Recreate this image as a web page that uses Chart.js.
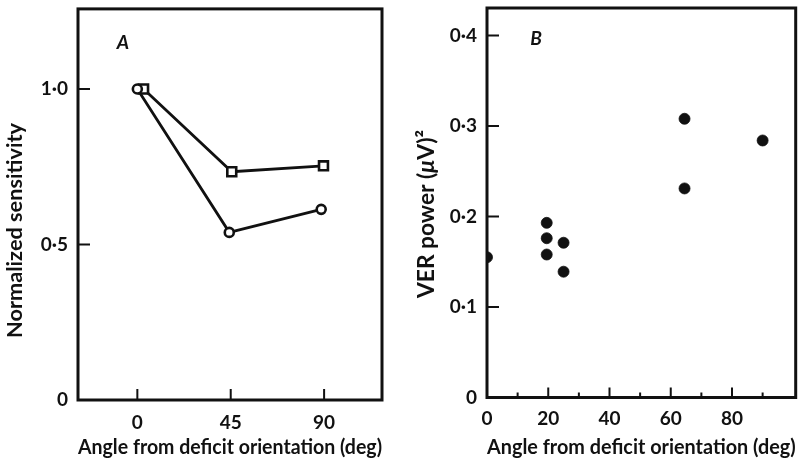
<!DOCTYPE html>
<html>
<head>
<meta charset="utf-8">
<script src="https://cdn.jsdelivr.net/npm/chart.js@4.4.1/dist/chart.umd.min.js"></script>
<style>
  html, body { margin: 0; padding: 0; background: #fff; }
  #wrap { position: relative; width: 802px; height: 460px; }
  #ca { position: absolute; left: 0; top: 0; }
  #cb { position: absolute; left: 400px; top: 0; }
</style>
</head>
<body>
<div id="wrap">
  <canvas id="ca" width="400" height="460"></canvas>
  <canvas id="cb" width="402" height="460"></canvas>
</div>
<script>
// ---- Panel A data ----
const circleAngles = [0, 44.3, 88.6];
const circleSens   = [1.0, 0.539, 0.613];
const squareAngles = [3, 45.5, 89.7];
const squareSens   = [1.0, 0.734, 0.753];
const aTickX = [0, 45, 90];
const aTickY = [0, 0.5, 1.0];

// ---- Panel B data ----
const verAngles = [0, 19.5, 19.5, 19.5, 25, 25, 64.5, 64.5, 90];
const verPower  = [0.155, 0.193, 0.176, 0.158, 0.171, 0.139, 0.308, 0.231, 0.284];
const bTickX = [0, 10, 20, 30, 40, 50, 60, 70, 80, 90];
const bLabelX = [0, 20, 40, 60, 80];
const bTickY = [0, 0.1, 0.2, 0.3, 0.4];

const xTitle = 'Angle from deficit orientation (deg)';
const aYTitle = 'Normalized sensitivity';
const bYTitleParts = [['VER power (', 'normal'], ['\u03BC', 'italic'], ['V)\u00B2', 'normal']];

const FAMILY = 'Lato, "Open Sans", sans-serif';
const WEIGHT = 'bold';
const INK = '#111';
Chart.defaults.font.family = FAMILY;
Chart.defaults.color = INK;

function fmtY(v) {
  if (Math.abs(v) < 1e-9) return '0';
  return v.toFixed(1).replace('.', '\u00B7');
}
function fmtX(v) { return String(Math.round(v)); }
const pts = (xs, ys) => xs.map((x, i) => ({ x: x, y: ys[i] }));

const mctx = document.createElement('canvas').getContext('2d');
function fitSize(parts, target) {
  let w = 0;
  parts.forEach(p => { mctx.font = p[1] + ' ' + WEIGHT + ' 100px ' + FAMILY; w += mctx.measureText(p[0]).width; });
  return 100 * target / w;
}
const xTitleSize = fitSize([[xTitle, 'normal']], 325);
const aYTitleSize = fitSize([[aYTitle, 'normal']], 215);
const bYTitleSize = fitSize(bYTitleParts, 168);

function framePlugin(cfg) {
  return {
    id: 'frame',
    beforeDatasetsDraw(chart) {
      const { ctx, chartArea: a, scales } = chart;
      ctx.save();
      ctx.strokeStyle = INK;
      ctx.lineWidth = 3;
      ctx.strokeRect(a.left, a.top, a.right - a.left, a.bottom - a.top);
      ctx.lineWidth = 2;
      ctx.beginPath();
      cfg.yTicks.forEach(v => {
        const py = scales.y.getPixelForValue(v);
        ctx.moveTo(a.left, py); ctx.lineTo(a.left + cfg.yLen, py);
      });
      cfg.xTicks.forEach(v => {
        const px = scales.x.getPixelForValue(v);
        ctx.moveTo(px, a.bottom); ctx.lineTo(px, a.bottom - cfg.xLen(v));
      });
      ctx.stroke();
      ctx.fillStyle = INK;
      ctx.font = 'italic bold 19px ' + FAMILY;
      ctx.textAlign = 'center';
      ctx.textBaseline = 'middle';
      ctx.fillText(cfg.letter, cfg.letterX, cfg.letterY);
      ctx.translate(cfg.titleX, cfg.titleY);
      ctx.rotate(-Math.PI / 2);
      ctx.textBaseline = 'middle';
      ctx.textAlign = 'left';
      const parts = cfg.titleParts, size = cfg.titleSize;
      let total = 0;
      parts.forEach(p => { ctx.font = p[1] + ' ' + WEIGHT + ' ' + size + 'px ' + FAMILY; total += ctx.measureText(p[0]).width; });
      let x = -total / 2;
      parts.forEach(p => {
        ctx.font = p[1] + ' ' + WEIGHT + ' ' + size + 'px ' + FAMILY;
        ctx.fillText(p[0], x, 0);
        x += ctx.measureText(p[0]).width;
      });
      ctx.restore();
    }
  };
}

const tickFont = { size: 19, weight: WEIGHT, family: FAMILY };
const titleFont = { size: xTitleSize, weight: WEIGHT, family: FAMILY };
const noPadX = s => { s.paddingLeft = 0; s.paddingRight = 0; };
const noPadY = s => { s.paddingTop = 0; s.paddingBottom = 0; };

// ---- Chart A ----
new Chart(document.getElementById('ca'), {
  type: 'scatter',
  data: {
    datasets: [
      {
        data: pts(circleAngles, circleSens),
        showLine: true,
        borderColor: INK,
        borderWidth: 2.8,
        pointStyle: 'circle',
        pointRadius: 4.5,
        pointBorderWidth: 2.6,
        pointBorderColor: INK,
        pointBackgroundColor: '#fff'
      },
      {
        data: pts(squareAngles, squareSens),
        showLine: true,
        borderColor: INK,
        borderWidth: 2.8,
        pointStyle: 'rect',
        pointRadius: 6.3,
        pointBorderWidth: 2.6,
        pointBorderColor: INK,
        pointBackgroundColor: '#fff'
      }
    ]
  },
  options: {
    responsive: false,
    animation: false,
    devicePixelRatio: 1,
    layout: { padding: { left: 0, top: 7, right: 18, bottom: 0 } },
    plugins: { legend: { display: false }, tooltip: { enabled: false } },
    scales: {
      x: {
        type: 'linear', min: -28.6, max: 117.9,
        afterBuildTicks: s => { s.ticks = aTickX.map(v => ({ value: v })); },
        afterFit: s => { s.height = 60; noPadX(s); },
        grid: { display: false, drawTicks: false, tickLength: 0 },
        border: { display: false },
        ticks: { callback: v => fmtX(v), font: tickFont, color: INK, padding: 11, maxRotation: 0, autoSkip: false },
        title: { display: true, text: xTitle, font: titleFont, color: INK, padding: { top: 0, bottom: 0 } }
      },
      y: {
        type: 'linear', min: 0, max: 1.2576,
        afterBuildTicks: s => { s.ticks = aTickY.map(v => ({ value: v })); },
        afterFit: s => { s.width = 78; noPadY(s); },
        grid: { display: false, drawTicks: false, tickLength: 0 },
        border: { display: false },
        ticks: { callback: v => fmtY(v), font: tickFont, color: INK, padding: 10, autoSkip: false }
      }
    }
  },
  plugins: [framePlugin({
    yTicks: aTickY.filter(v => v > 0), yLen: 12,
    xTicks: aTickX, xLen: () => 11,
    letter: 'A', letterX: 123, letterY: 43,
    titleX: 15, titleY: 230.5, titleParts: [[aYTitle, 'normal']], titleSize: aYTitleSize
  })]
});

// ---- Chart B ----
new Chart(document.getElementById('cb'), {
  type: 'scatter',
  data: {
    datasets: [{
      data: pts(verAngles, verPower),
      pointStyle: 'circle',
      pointRadius: 5.5,
      pointBorderWidth: 0.8,
      pointBorderColor: INK,
      pointBackgroundColor: INK
    }]
  },
  options: {
    responsive: false,
    animation: false,
    devicePixelRatio: 1,
    layout: { padding: { left: 0, top: 8, right: 4, bottom: 0 } },
    plugins: { legend: { display: false }, tooltip: { enabled: false } },
    scales: {
      x: {
        type: 'linear', min: 0, max: 100.8,
        afterBuildTicks: s => { s.ticks = bLabelX.map(v => ({ value: v })); },
        afterFit: s => { s.height = 62.5; noPadX(s); },
        grid: { display: false, drawTicks: false, tickLength: 0 },
        border: { display: false },
        ticks: { callback: v => fmtX(v), font: tickFont, color: INK, padding: 10, maxRotation: 0, autoSkip: false },
        title: { display: true, text: xTitle, font: titleFont, color: INK, padding: { top: 0, bottom: 0 } }
      },
      y: {
        type: 'linear', min: 0, max: 0.4304,
        afterBuildTicks: s => { s.ticks = bTickY.map(v => ({ value: v })); },
        afterFit: s => { s.width = 87; noPadY(s); },
        grid: { display: false, drawTicks: false, tickLength: 0 },
        border: { display: false },
        ticks: { callback: v => fmtY(v), font: tickFont, color: INK, padding: 10, autoSkip: false }
      }
    }
  },
  plugins: [framePlugin({
    yTicks: bTickY.filter(v => v > 0), yLen: 12,
    xTicks: bTickX.filter(v => v > 0), xLen: v => (v % 20 === 0 ? 10 : 5),
    letter: 'B', letterX: 136, letterY: 39,
    titleX: 27, titleY: 214, titleParts: bYTitleParts, titleSize: bYTitleSize
  })]
});
</script>
</body>
</html>
